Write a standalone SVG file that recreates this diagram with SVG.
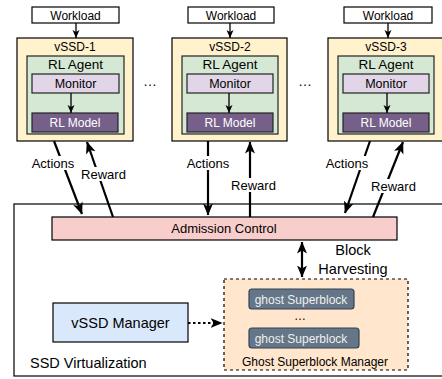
<svg xmlns="http://www.w3.org/2000/svg" width="442" height="379" viewBox="0 0 442 379">
<defs>
<style>
text{font-family:"Liberation Sans",Arial,sans-serif;fill:#000;text-anchor:middle}
.box{stroke:#000;stroke-width:1.2}
.vssd{fill:#fff2cc}
.agent{fill:#d5e8d4;stroke:#222;stroke-width:1.2}
.mon{fill:#e1d5e7;stroke:#222;stroke-width:1.2}
.model{fill:#76608a;stroke:#222;stroke-width:1.2}
.wl{fill:#fff;stroke:#000;stroke-width:1.2}
.thin{stroke:#000;stroke-width:1.3;fill:none;marker-end:url(#ahs)}
.thick{stroke:#000;stroke-width:2.2;fill:none;marker-end:url(#ah)}
.lbl{fill:#fff}
.gsb{fill:#647687;stroke:#314354;stroke-width:1.2}
</style>
<marker id="ah" markerUnits="userSpaceOnUse" viewBox="0 0 12 12" markerWidth="12" markerHeight="12" refX="11.5" refY="6" orient="auto-start-reverse"><path d="M0,1 L12,6 L0,11 L3,6 z" fill="#000"/></marker>
<marker id="ahs" markerUnits="userSpaceOnUse" viewBox="0 0 8 8" markerWidth="8" markerHeight="8" refX="8" refY="4" orient="auto"><path d="M0,0.5 L8,4 L0,7.5 L2,4 z" fill="#000"/></marker>
</defs>
<rect width="442" height="379" fill="#fff"/>

<g id="ssd-virtualization">
<rect x="14" y="204" width="432" height="172" fill="#fff" stroke="#000" stroke-width="1.2"/>
<text x="30" y="368" style="text-anchor:start;font-size:14.5px">SSD Virtualization</text>
</g>

<g id="vssd-1">
<rect class="wl" x="32" y="7" width="87" height="16"/>
<text x="75.5" y="19.5" font-size="12">Workload</text>
<rect class="box vssd" x="17" y="38" width="116" height="103"/>
<text x="75" y="51" font-size="12">vSSD-1</text>
<rect class="agent" x="27" y="56" width="97" height="78"/>
<text x="75.5" y="68.5" font-size="13.5">RL Agent</text>
<rect class="mon" x="32" y="74" width="87" height="19"/>
<text x="75.5" y="88" font-size="12.5">Monitor</text>
<rect class="model" x="32" y="113" width="86" height="19"/>
<text x="75" y="127" font-size="12" style="fill:#fff">RL Model</text>
</g>

<g id="vssd-2">
<rect class="wl" x="188" y="7" width="86" height="16"/>
<text x="231" y="19.5" font-size="12">Workload</text>
<rect class="box vssd" x="172" y="38" width="115" height="103"/>
<text x="230" y="51" font-size="12">vSSD-2</text>
<rect class="agent" x="182" y="56" width="96" height="78"/>
<text x="230" y="68.5" font-size="13.5">RL Agent</text>
<rect class="mon" x="187" y="74" width="86" height="19"/>
<text x="230" y="88" font-size="12.5">Monitor</text>
<rect class="model" x="187" y="113" width="86" height="19"/>
<text x="230" y="127" font-size="12" style="fill:#fff">RL Model</text>
</g>

<g id="vssd-3">
<rect class="wl" x="344" y="7" width="88" height="16"/>
<text x="388" y="19.5" font-size="12">Workload</text>
<rect class="box vssd" x="328" y="38" width="120" height="103"/>
<text x="386" y="51" font-size="12">vSSD-3</text>
<rect class="agent" x="338" y="56" width="96" height="78"/>
<text x="386" y="68.5" font-size="13.5">RL Agent</text>
<rect class="mon" x="343" y="74" width="86" height="19"/>
<text x="386" y="88" font-size="12.5">Monitor</text>
<rect class="model" x="343" y="113" width="86" height="19"/>
<text x="386" y="127" font-size="12" style="fill:#fff">RL Model</text>
</g>

<g id="ellipses">
<text x="150" y="86" font-size="14">…</text>
<text x="305" y="86" font-size="14">…</text>
</g>

<g id="admission-control">
<rect x="52" y="217" width="345" height="23" fill="#f8cecc" stroke="#000" stroke-width="1.2"/>
<text x="224" y="233" font-size="13">Admission Control</text>
</g>

<g id="vssd-manager">
<rect x="53" y="303" width="135" height="39" fill="#dae8fc" stroke="#000" stroke-width="1.2"/>
<text x="120.5" y="327.5" font-size="14.5">vSSD Manager</text>
</g>

<g id="ghost-superblock-manager">
<rect x="224" y="279" width="184" height="91" fill="#ffe6cc" stroke="#000" stroke-width="1.2" stroke-dasharray="3,3"/>
<rect class="gsb" x="249" y="289" width="105" height="20" rx="3"/>
<text x="301" y="303.5" font-size="12" style="fill:#f0f0f0">ghost Superblock</text>
<text x="300" y="320" font-size="12">…</text>
<rect class="gsb" x="249" y="328" width="110" height="20" rx="3"/>
<text x="301" y="342.5" font-size="12" style="fill:#f0f0f0">ghost Superblock</text>
<text x="315" y="366" font-size="12">Ghost Superblock Manager</text>
</g>

<g id="connectors">
<path class="thin" d="M76,23 V38"/>
<path class="thin" d="M71,93 V113"/>
<path class="thin" d="M230,23 V38"/>
<path class="thin" d="M229,93 V113"/>
<path class="thin" d="M388,23 V38"/>
<path class="thin" d="M387,93 V113"/>

<path class="thick" d="M54,141 L82,214"/>
<path class="thick" d="M113,217 L87,142"/>
<path class="thick" d="M208,141 L208,215"/>
<path class="thick" d="M250,217 L250,142"/>
<path class="thick" d="M370,141 L345,213"/>
<path class="thick" d="M373,217 L403,142"/>

<path class="thick" d="M302,242 V277" style="marker-start:url(#ah)"/>
<path d="M188,323 H222" stroke="#000" stroke-width="2.2" stroke-dasharray="2.5,2.5" fill="none" marker-end="url(#ah)"/>

<rect class="lbl" x="31" y="156" width="44" height="14"/>
<text x="53" y="167.5" font-size="13">Actions</text>
<rect class="lbl" x="80" y="167" width="47" height="14"/>
<text x="103.5" y="178.5" font-size="13">Reward</text>
<rect class="lbl" x="186" y="156" width="44" height="14"/>
<text x="208" y="167.5" font-size="13">Actions</text>
<rect class="lbl" x="230" y="178" width="47" height="14"/>
<text x="253.5" y="189.5" font-size="13">Reward</text>
<rect class="lbl" x="325" y="156" width="44" height="14"/>
<text x="347" y="167.5" font-size="13">Actions</text>
<rect class="lbl" x="370" y="179" width="47" height="14"/>
<text x="393.5" y="190.5" font-size="13">Reward</text>

<text x="353" y="255" font-size="14.5">Block</text>
<text x="353" y="274" font-size="14.5">Harvesting</text>
</g>
</svg>
